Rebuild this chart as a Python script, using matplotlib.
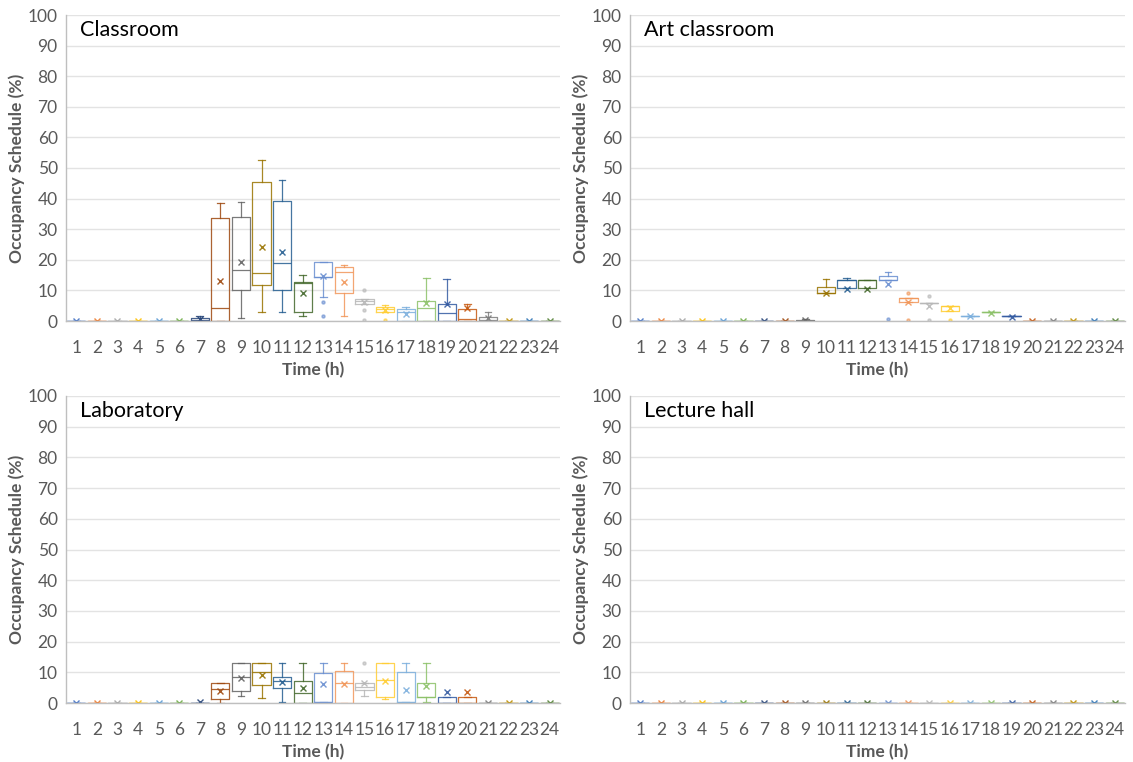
import matplotlib
matplotlib.use("Agg")
import matplotlib.pyplot as plt

plt.rcParams['font.family'] = ['Lato', 'DejaVu Sans']

hours = list(range(1, 25))
colors = ['#4472C4', '#ED7D31', '#A5A5A5', '#FFC000', '#5B9BD5', '#70AD47',
          '#264478', '#9E480E', '#636363', '#997300', '#255E91', '#43682B',
          '#698ED0', '#F1975A', '#B7B7B7', '#FFCD33', '#7CAFDD', '#8CC168',
          '#335AA1', '#C65911', '#7C7C7C', '#BF9000', '#2E75B6', '#548235']

# ---- Classroom ----
cls_wlo  = [0]*6 + [0, 0, 0.9, 2.8, 2.8, 1.6, 8.0, 1.6, 5.6, 3.0, 0.1, 0.1, 0.1, 0.1, 0.1, 0, 0, 0]
cls_q1   = [0]*6 + [0, 0, 10.1, 11.8, 10.1, 3.0, 14.5, 9.3, 5.6, 3.0, 0.1, 0.1, 0.1, 0.1, 0.1, 0, 0, 0]
cls_med  = [0]*6 + [0.3, 4.1, 16.7, 15.8, 18.8, 12.5, 14.5, 16.1, 6.5, 3.8, 3.0, 4.4, 2.7, 0.5, 0.3, 0, 0, 0]
cls_q3   = [0]*6 + [1.0, 33.6, 34.1, 45.5, 39.3, 12.8, 19.2, 17.5, 7.1, 4.7, 3.8, 6.6, 5.6, 3.9, 1.2, 0, 0, 0]
cls_whi  = [0]*6 + [1.5, 38.5, 39.0, 52.6, 46.1, 15.0, 19.2, 18.3, 7.1, 5.2, 4.5, 14.0, 13.6, 5.6, 2.8, 0, 0, 0]
cls_mean = [0]*6 + [0.5, 13.2, 19.4, 24.1, 22.5, 9.0, 14.8, 12.6, 6.3, 3.6, 2.2, 6.0, 5.4, 4.1, 0.9, 0, 0, 0]
cls_fl   = [[]]*12 + [[6.1, 1.7], [], [10.1, 3.6, 0.3], [0.3]] + [[]]*8

# ---- Art classroom ----
art_wlo  = [0]*9 + [9.0, 10.9, 10.9, 13.4, 6.3, 5.8, 3.4, 1.6, 3.0, 1.6, 0, 0, 0, 0, 0]
art_q1   = [0]*9 + [9.0, 10.9, 10.9, 13.4, 6.3, 5.8, 3.4, 1.6, 3.0, 1.6, 0, 0, 0, 0, 0]
art_med  = [0]*9 + [9.0, 13.4, 13.4, 13.4, 7.4, 5.8, 4.9, 1.6, 3.0, 1.6, 0, 0, 0, 0, 0]
art_q3   = [0]*8 + [0.3, 11.2, 13.4, 13.4, 14.8, 7.4, 5.8, 4.9, 1.6, 3.0, 1.6, 0, 0, 0, 0, 0]
art_whi  = [0]*8 + [0.8, 13.7, 14.2, 13.4, 16.1, 7.4, 5.8, 4.9, 1.6, 3.0, 1.6, 0, 0, 0, 0, 0]
art_mean = [0]*8 + [0.4, 9.3, 10.5, 10.5, 12.0, 6.1, 5.0, 4.1, 1.5, 2.5, 1.4, 0, 0, 0, 0, 0]
art_fl   = [[]]*12 + [[0.5], [9.3, 0.3], [8.3, 0.3], [0.3]] + [[]]*8

# ---- Laboratory ----
lab_wlo  = [0]*7 + [0.1, 2.3, 1.5, 0.4, 0.1, 0.4, 0.1, 2.3, 1.2, 0.4, 0.4, 0.1, 0.1, 0, 0, 0, 0]
lab_q1   = [0]*7 + [1.2, 4.0, 5.9, 4.8, 0.1, 0.4, 0.1, 4.2, 1.9, 0.4, 2.1, 0.1, 0.1, 0, 0, 0, 0]
lab_med  = [0]*7 + [4.6, 8.4, 10.2, 7.2, 3.2, 0.4, 6.6, 5.3, 7.5, 0.4, 2.1, 0.1, 0.1, 0, 0, 0, 0]
lab_q3   = [0]*7 + [6.6, 12.9, 12.9, 8.4, 7.3, 9.9, 10.4, 6.6, 12.9, 10.0, 6.6, 2.1, 2.1, 0, 0, 0, 0]
lab_whi  = [0]*7 + [6.6, 12.9, 12.9, 12.9, 12.9, 12.9, 12.9, 6.6, 12.9, 12.9, 12.9, 2.1, 2.1, 0, 0, 0, 0]
lab_mean = [0]*6 + [0.2, 3.9, 8.1, 9.1, 6.9, 4.8, 6.1, 6.2, 6.4, 7.2, 4.2, 5.5, 3.6, 3.6, 0, 0, 0, 0]
lab_fl   = [[]]*14 + [[12.9]] + [[]]*9

# ---- Lecture hall ----
lec_wlo = [0]*24
lec_q1 = [0]*24
lec_med = [0]*24
lec_q3 = [0]*24
lec_whi = [0]*24
lec_mean = [0]*24
lec_fl = [[]]*24

titles = ['Classroom', 'Art classroom', 'Laboratory', 'Lecture hall']
yticks = list(range(0, 101, 10))

panels = [
    (cls_wlo, cls_q1, cls_med, cls_q3, cls_whi, cls_mean, cls_fl),
    (art_wlo, art_q1, art_med, art_q3, art_whi, art_mean, art_fl),
    (lab_wlo, lab_q1, lab_med, lab_q3, lab_whi, lab_mean, lab_fl),
    (lec_wlo, lec_q1, lec_med, lec_q3, lec_whi, lec_mean, lec_fl),
]

W, H = 1133, 762
fig = plt.figure(figsize=(W/100, H/100), dpi=100)
rects = [(66, 15, 494, 306), (630, 15, 495, 306), (66, 396, 494, 307), (630, 396, 495, 307)]

txtc = '#595959'
LW = 0.9
for (px, py, pw, ph), title, data in zip(rects, titles, panels):
    ax = fig.add_axes([px/W, (H-py-ph)/H, pw/W, ph/H])
    wlo, q1, med, q3, whi, mean, fl = data
    for i, h in enumerate(hours):
        lo = min(wlo[i], q1[i]); hi = max(whi[i], q3[i])
        st = dict(whislo=lo, q1=q1[i], med=med[i], q3=q3[i], whishi=hi,
                  mean=mean[i], fliers=fl[i])
        c = colors[i]
        ax.bxp([st], positions=[h], widths=0.88, showmeans=True, shownotches=False,
               boxprops=dict(color=c, lw=LW, alpha=0.85),
               medianprops=dict(color=c, lw=LW, alpha=0.85),
               whiskerprops=dict(color=c, lw=LW, alpha=0.85),
               capprops=dict(color=c, lw=LW, alpha=0.85),
               capwidths=0.32,
               meanprops=dict(marker='x', markeredgecolor=c, markersize=4.5,
                              markeredgewidth=1.0, linestyle='none', alpha=0.9),
               flierprops=dict(marker='o', markerfacecolor=c, markeredgecolor=c,
                               markersize=2.2, alpha=0.6),
               manage_ticks=False)
    ax.set_xlim(0.5, 24.5)
    ax.set_ylim(0, 100)
    ax.set_xticks(hours)
    ax.set_xticklabels([str(h) for h in hours])
    ax.set_yticks(yticks)
    ax.tick_params(axis='both', length=0, labelsize=12.5, colors=txtc, pad=6)
    ax.tick_params(axis='x', pad=14)
    ax.grid(axis='y', color='#E3E3E3', lw=1)
    ax.set_axisbelow(True)
    for s in ['top', 'right']:
        ax.spines[s].set_visible(False)
    for s in ['left', 'bottom']:
        ax.spines[s].set_color('#BFBFBF')
        ax.spines[s].set_linewidth(1)
    ax.set_xlabel('Time (h)', fontsize=12.5, fontweight='bold', color=txtc, labelpad=4)
    ax.set_ylabel('Occupancy Schedule (%)', fontsize=12.5, fontweight='bold', color=txtc)
    ax.yaxis.set_label_coords(-41 / pw, 0.5)
    ax.text(0.028, 0.95, title, transform=ax.transAxes, fontsize=15.5, color='black',
            va='center', ha='left')

fig.savefig('out.png', dpi=100)
